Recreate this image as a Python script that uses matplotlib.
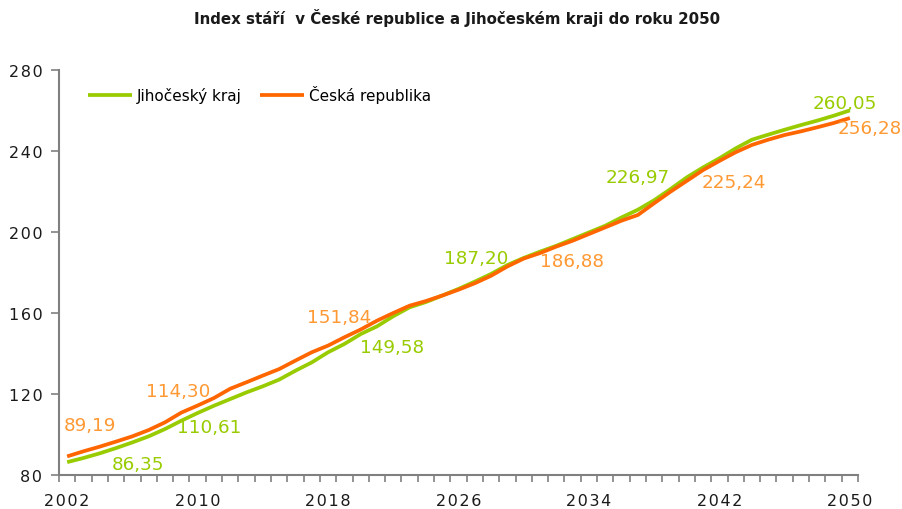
import matplotlib
matplotlib.use("Agg")
import matplotlib.pyplot as plt
import numpy as np

plt.rcParams['font.family'] = ['DejaVu Sans']

years = list(range(2002, 2051))

# Index stáří – Jihočeský kraj
jihocesky = [86.35, 88.4, 90.7, 93.3, 96.1, 99.1, 102.7, 106.8, 110.61, 114.2,
             117.5, 120.8, 123.8, 127.1, 131.5, 135.6, 140.6, 144.7, 149.58, 153.4,
             158.4, 162.8, 165.4, 168.6, 171.9, 175.5, 179.3, 183.7, 187.20, 190.3,
             193.2, 196.5, 199.8, 203.1, 207.2, 211.0, 215.7, 221.2, 226.97, 231.9,
             236.4, 241.3, 245.6, 248.1, 250.5, 252.8, 255.0, 257.4, 260.05]

# Index stáří – Česká republika
ceska = [89.19, 91.7, 94.0, 96.5, 99.1, 102.2, 106.0, 110.8, 114.30, 118.0,
         122.6, 125.8, 129.1, 132.3, 136.5, 140.6, 143.9, 148.0, 151.84, 156.2,
         160.0, 163.6, 165.9, 168.6, 171.5, 174.7, 178.4, 183.0, 186.88, 189.6,
         192.8, 195.7, 199.0, 202.3, 205.6, 208.4, 214.2, 219.9, 225.24, 230.6,
         235.1, 239.4, 243.0, 245.6, 247.9, 249.7, 251.7, 253.8, 256.28]

series_names = ["Jihočeský kraj", "Česká republika"]
yticks = [80, 120, 160, 200, 240, 280]
labeled_years = [2002, 2010, 2020, 2030, 2040, 2050]

GREEN = "#99CC00"
ORANGE = "#FF6600"
ORANGE_TXT = "#FF9933"
HAIR = "\u200a"


def spaced(s):
    # widen the tracking of axis labels with hair spaces
    return HAIR.join(s)


fig = plt.figure(figsize=(9.03, 5.10), dpi=100)
ax = fig.add_axes([59 / 903, 1 - 476 / 510, (858 - 59) / 903, (476 - 71) / 510])

x = np.arange(len(years))
ax.plot(x, jihocesky, color=GREEN, lw=2.7, label=series_names[0], solid_capstyle='butt')
ax.plot(x, ceska, color=ORANGE, lw=2.7, label=series_names[1], solid_capstyle='butt')

ax.set_xlim(-0.5, len(years) - 0.5)
ax.set_ylim(80, 280)

# category axis: tick marks between categories, labels every 8 years
ax.set_xticks(np.arange(-0.5, len(years), 1.0), minor=True)
major = np.arange(0, len(years), 8)
ax.set_xticks(major)
ax.set_xticklabels([spaced(str(years[i])) for i in major])
ax.tick_params(axis='x', which='major', length=0, pad=13, labelsize=11.5, labelcolor='#1a1a1a')
ax.tick_params(axis='x', which='minor', length=5, width=1.2, color='#808080', direction='out')

ax.set_yticks(yticks)
ax.set_yticklabels([spaced(str(v)) for v in yticks])
ax.tick_params(axis='y', length=6, width=1.2, color='#808080', pad=6, labelsize=11.5,
               labelcolor='#1a1a1a')

for side in ('top', 'right'):
    ax.spines[side].set_visible(False)
for side in ('left', 'bottom'):
    ax.spines[side].set_color('#808080')
    ax.spines[side].set_linewidth(1.5)

# value labels (offsets in pixels from the data point)
green_offsets = {2002: (71, -2), 2010: (12, -14), 2020: (31, -13),
                 2030: (-48, 0), 2040: (-49, 0), 2050: (-5, 7)}
orange_offsets = {2002: (23, 31), 2010: (-19, 15), 2020: (-22, 13),
                  2030: (48, -2), 2040: (47, -1), 2050: (20, -10)}


def fmt(v):
    return f"{v:.2f}".replace('.', ',')


for yr in labeled_years:
    i = years.index(yr)
    ax.annotate(fmt(jihocesky[i]), (i, jihocesky[i]), xytext=green_offsets[yr],
                textcoords='offset pixels', ha='center', va='center',
                color=GREEN, fontsize=13.2, annotation_clip=False)
    ax.annotate(fmt(ceska[i]), (i, ceska[i]), xytext=orange_offsets[yr],
                textcoords='offset pixels', ha='center', va='center',
                color=ORANGE_TXT, fontsize=13.2, annotation_clip=False)

ax.legend(loc='center left', bbox_to_anchor=(88 / 903, 1 - 95 / 510),
          bbox_transform=fig.transFigure, frameon=False, ncol=2,
          fontsize=11, handlelength=2.9, handletextpad=0.3, columnspacing=1.2,
          borderpad=0, borderaxespad=0)

fig.text(0.506, 1 - 18 / 510, "Index stáří  v České republice a Jihočeském kraji do roku 2050",
         ha='center', va='center', fontsize=10.8, fontweight='bold', color='#1a1a1a')

fig.savefig("out.png", dpi=100)
